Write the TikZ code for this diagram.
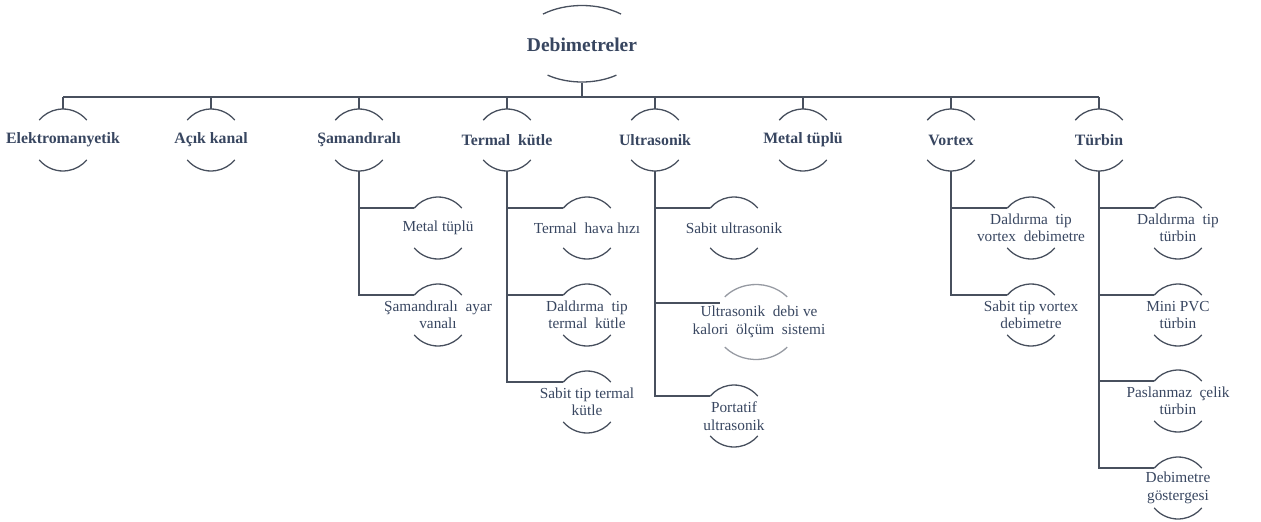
\documentclass[tikz,border=0pt]{standalone}
\usepackage{fontspec}
\setmainfont{Liberation Serif}
\usetikzlibrary{shapes.geometric}
\definecolor{ln}{RGB}{72,80,94}
\definecolor{tx}{RGB}{56,70,96}
\definecolor{lg}{RGB}{150,154,162}
\newcommand\wsp{\hspace{0.5em}}
\tikzset{
  ring/.style={circle, minimum size=62pt, inner sep=0pt, outer sep=0pt, draw=none},
  lvlone/.style={font=\bfseries\fontsize{15.8}{18}\selectfont, text=tx},
  sub/.style={font=\fontsize{15.3}{17.5}\selectfont, text=tx, align=center},
  conn/.style={draw=ln, line width=1.4pt},
  arcl/.style={draw=ln, line width=1.3pt},
  arcg/.style={draw=lg, line width=1.3pt},
}
\newcommand\arcpair[1]{%
  \draw[arcl] (#1.40) arc[start angle=40,end angle=140,radius=31pt];
  \draw[arcl] (#1.220) arc[start angle=220,end angle=320,radius=31pt];}
\begin{document}
\begin{tikzpicture}[x=1pt,y=1pt]
\useasboundingbox (0,0) rectangle (1261,-522);
% root
\node[ellipse, minimum width=124pt, minimum height=77pt, inner sep=0pt, outer sep=0pt] (root) at (582,-44) {};
\node[font=\bfseries\fontsize{19.5}{22}\selectfont, text=tx] (roott) at (582,-45) {Debimetreler};
\draw[arcl] (root.center) ++(51:62pt and 38.5pt) arc[start angle=51,end angle=129,x radius=62pt,y radius=38.5pt];
\draw[arcl] (root.center) ++(235:60pt and 38pt) arc[start angle=235,end angle=305,x radius=60pt,y radius=38pt];
\coordinate (bus) at (582,-97);
% level one
\foreach \i/\t in {1/Elektromanyetik,2/Açık kanal,3/Şamandıralı,4/Termal\wsp kütle,5/Ultrasonik,6/Metal tüplü,7/Vortex,8/Türbin}{
  \node[ring] (e\i) at ({63+148*(\i-1)},-140) {};
  \node[lvlone] (e\i t) at (e\i) {\t};
  \arcpair{e\i}
  \draw[conn] (e\i.north) -- (e\i.north |- bus);
}
\draw[conn] (root.south) -- (bus);
\draw[conn] (e1.north |- bus) -- (e8.north |- bus);
% Samandirali children
\node[ring] (s1) at (438,-228) {};
\node[sub] (s1t) at (s1) {Metal tüplü};
\node[ring] (s2) at (438,-315) {};
\node[sub] (s2t) at (s2) {Şamandıralı\wsp ayar\\vanalı};
\foreach \n in {s1,s2}{\arcpair{\n}\draw[conn] (e3.south) |- (\n.140);}
% Termal children
\node[ring] (t1) at (587,-228) {};
\node[sub] (t1t) at (t1) {Termal\wsp hava hızı};
\node[ring] (t2) at (587,-315) {};
\node[sub] (t2t) at (t2) {Daldırma\wsp tip\\termal\wsp kütle};
\node[ring] (t3) at (587,-402) {};
\node[sub] (t3t) at (t3) {Sabit tip termal\\kütle};
\foreach \n in {t1,t2,t3}{\arcpair{\n}\draw[conn] (e4.south) |- (\n.140);}
% Ultrasonik children
\node[ring] (u1) at (734,-228) {};
\node[sub] (u1t) at (u1) {Sabit ultrasonik};
\node[ellipse, minimum width=84pt, minimum height=75pt, inner sep=0pt, outer sep=0pt] (u2) at (756,-322) {};
\node[sub] (u2t) at (759,-322) {Ultrasonik\wsp debi ve\\kalori\wsp ölçüm\wsp sistemi};
\draw[arcg] (u2.center) ++(42:42pt and 37.5pt) arc[start angle=42,end angle=138,x radius=42pt,y radius=37.5pt];
\draw[arcg] (u2.center) ++(222:42pt and 37.5pt) arc[start angle=222,end angle=318,x radius=42pt,y radius=37.5pt];
\node[ring] (u3) at (734,-416) {};
\node[sub] (u3t) at (u3) {Portatif\\ultrasonik};
\foreach \n in {u1,u3}{\arcpair{\n}\draw[conn] (e5.south) |- (\n.140);}
\draw[conn] (e5.south) |- (u2.152);
% Vortex children
\node[ring] (v1) at (1031,-228) {};
\node[sub] (v1t) at (v1) {Daldırma\wsp tip\\vortex\wsp debimetre};
\node[ring] (v2) at (1031,-315) {};
\node[sub] (v2t) at (v2) {Sabit tip vortex\\debimetre};
\foreach \n in {v1,v2}{\arcpair{\n}\draw[conn] (e7.south) |- (\n.140);}
% Turbin children
\node[ring] (b1) at (1178,-228) {};
\node[sub] (b1t) at (b1) {Daldırma\wsp tip\\türbin};
\node[ring] (b2) at (1178,-315) {};
\node[sub] (b2t) at (b2) {Mini PVC\\türbin};
\node[ring] (b3) at (1178,-401) {};
\node[sub] (b3t) at (b3) {Paslanmaz\wsp çelik\\türbin};
\node[ring] (b4) at (1178,-488) {};
\node[sub] (b4t) at (b4) {Debimetre\\göstergesi};
\foreach \n in {b1,b2,b3,b4}{\arcpair{\n}\draw[conn] (e8.south) |- (\n.140);}
\end{tikzpicture}
\end{document}
